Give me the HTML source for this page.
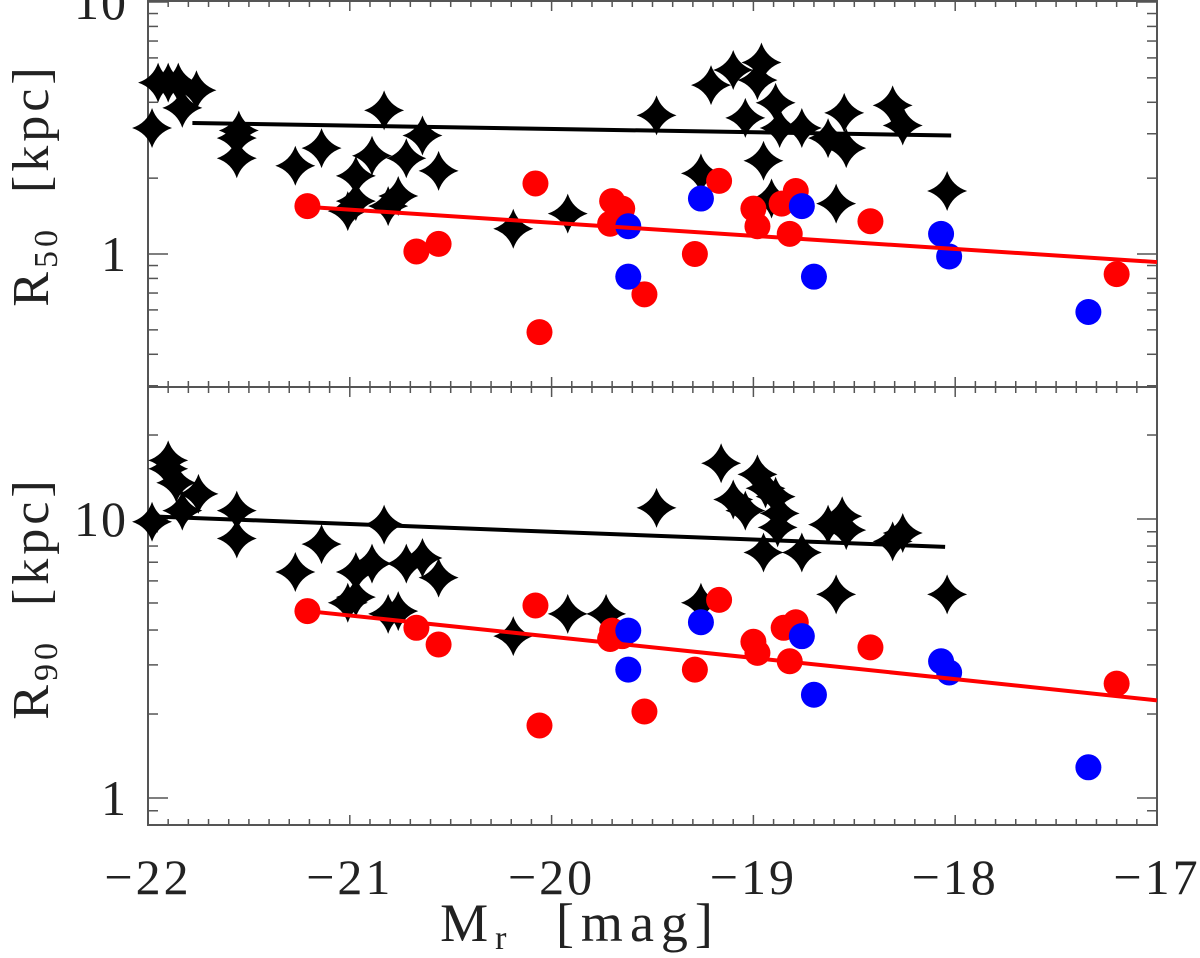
<!DOCTYPE html>
<html><head><meta charset="utf-8"><style>
html,body{margin:0;padding:0;background:#fff;}
svg{display:block;font-family:"Liberation Serif",serif;}
</style></head><body>
<svg id="chart" width="1200" height="958" viewBox="0 0 1200 958" xmlns="http://www.w3.org/2000/svg"></svg>
<script>
// ---- data (M_r, log10 R) ----
const starM50=[-21.98,-21.95,-21.90,-21.85,-21.76,-21.83,-21.55,-21.56,-21.56,-21.27,-21.14,-20.83,-20.64,-20.89,-20.72,-20.56,-20.97,-20.97,-21.01,-20.76,-20.81,-20.19,-19.92,-19.48,-19.26,-19.21,-19.10,-18.96,-18.98,-19.04,-18.89,-18.87,-18.76,-18.63,-18.55,-18.54,-18.95,-18.91,-18.59,-18.31,-18.26,-18.04];
const starLogR50=[0.50,0.68,0.68,0.68,0.65,0.58,0.49,0.46,0.38,0.35,0.42,0.57,0.47,0.39,0.38,0.33,0.31,0.21,0.17,0.23,0.19,0.10,0.16,0.55,0.32,0.67,0.73,0.76,0.69,0.54,0.60,0.50,0.50,0.46,0.56,0.42,0.37,0.22,0.20,0.59,0.51,0.25];
const redM50=[-21.21,-20.67,-20.56,-20.08,-20.06,-19.70,-19.65,-19.71,-19.29,-19.54,-19.17,-19.00,-18.98,-18.79,-18.86,-18.82,-18.42,-17.20];
const redLogR50=[0.19,0.01,0.04,0.28,-0.31,0.21,0.18,0.12,0.00,-0.16,0.29,0.18,0.11,0.25,0.20,0.08,0.13,-0.08];
const blueM50=[-19.62,-19.26,-19.62,-18.76,-18.70,-18.07,-18.03,-17.34];
const blueLogR50=[0.11,0.22,-0.09,0.19,-0.09,0.08,-0.01,-0.23];
const starM90=[-21.90,-21.90,-21.86,-21.75,-21.83,-21.98,-21.56,-21.56,-21.27,-21.14,-20.83,-20.97,-20.89,-20.72,-20.64,-20.56,-21.01,-20.97,-20.81,-20.76,-20.19,-19.92,-19.73,-19.48,-19.26,-19.16,-18.98,-18.94,-18.89,-19.10,-19.04,-18.87,-18.88,-18.63,-18.56,-18.54,-18.31,-18.26,-18.95,-18.76,-18.59,-18.04];
const starLogR90=[1.21,1.18,1.13,1.09,1.03,0.99,1.03,0.93,0.81,0.91,0.98,0.81,0.84,0.84,0.86,0.79,0.70,0.72,0.66,0.67,0.58,0.66,0.66,1.04,0.70,1.20,1.16,1.11,1.08,1.07,1.03,1.02,0.97,0.98,1.01,0.96,0.92,0.95,0.88,0.88,0.73,0.73];
const redM90=[-21.21,-20.67,-20.56,-20.08,-20.06,-19.70,-19.65,-19.71,-19.29,-19.54,-19.17,-19.00,-18.98,-18.79,-18.85,-18.82,-18.42,-17.20];
const redLogR90=[0.67,0.61,0.55,0.69,0.26,0.60,0.58,0.57,0.46,0.31,0.71,0.56,0.52,0.63,0.61,0.49,0.54,0.41];
const blueM90=[-19.62,-19.26,-19.62,-18.76,-18.70,-18.07,-18.03,-17.34];
const blueLogR90=[0.60,0.63,0.46,0.58,0.37,0.49,0.45,0.11];
// fit lines: [M_start, M_end], [logR_start, logR_end]
const blackFitM50=[-21.78,-18.02], blackFitR50=[0.52,0.47];
const redFitM50=[-21.21,-17.0], redFitR50=[0.187,-0.032];
const blackFitM90=[-22.0,-18.05], blackFitR90=[1.01,0.90];
const redFitM90=[-21.21,-17.0], redFitR90=[0.67,0.35];
const xTicks=[-22,-21,-20,-19,-18,-17];
const xTickLabels=["\u221222","\u221221","\u221220","\u221219","\u221218","\u221217"];

// ---- geometry ----
const NS="http://www.w3.org/2000/svg";
const svg=document.getElementById('chart');
const L=148,R=1157;
const X=m=>L+(m+22)*(R-L)/5;
const P1={top:1,bot:387,y1:254,dec:252,lo:0.3,hi:10};
const P2={top:387,bot:825,y1:798,dec:279,lo:0.8,hi:30};
const Y=(p,lg)=>p.y1-lg*p.dec;
function el(tag,attrs,parent){const e=document.createElementNS(NS,tag);for(const k in attrs)e.setAttribute(k,attrs[k]);(parent||svg).appendChild(e);return e;}

function drawPanel(p,name,labels){
  const g=el('g',{});
  
  
  el('rect',{x:L,y:p.top,width:R-L,height:p.bot-p.top,fill:'none',stroke:'#555','stroke-width':2},g);
  for(let i=0;i<=50;i++){const m=-22+i*0.1,x=X(m);const len=(i%10===0)?10:6;
    el('line',{x1:x,x2:x,y1:p.bot,y2:p.bot-len,stroke:'#555','stroke-width':1.5},g);
    el('line',{x1:x,x2:x,y1:p.top,y2:p.top+len,stroke:'#555','stroke-width':1.5},g);}
  for(let d=-1;d<=1;d++)for(let k=1;k<=9;k++){const v=k*Math.pow(10,d);if(v<p.lo-1e-9||v>p.hi+1e-9)continue;
    const y=Y(p,Math.log10(v));const len=(k===1)?20:10;
    el('line',{x1:L,x2:L+len,y1:y,y2:y,stroke:'#555','stroke-width':1.5},g);
    el('line',{x1:R,x2:R-len,y1:y,y2:y,stroke:'#555','stroke-width':1.5},g);}
  labels.forEach(([v,t])=>{const tx=el('text',{x:128,y:Y(p,Math.log10(v))+17,'text-anchor':'end','font-size':50,'letter-spacing':2,fill:'#222'},g);tx.textContent=t;
    
    });
  return g;
}
function star(x,y,g){const r=20,c=5;
  const d=`M${x},${y-r} Q${x+c},${y-c} ${x+r},${y} Q${x+c},${y+c} ${x},${y+r} Q${x-c},${y+c} ${x-r},${y} Q${x-c},${y-c} ${x},${y-r}Z`;
  const s=el('path',{d:d,fill:'#000'},g);
  
  }
function dot(x,y,col,g,nm){const c=el('circle',{cx:x,cy:y,r:13,fill:col},g);
  
  }
function fit(p,ms,rs,col,g,nm){const l=el('line',{x1:X(ms[0]),x2:X(ms[1]),y1:Y(p,rs[0]),y2:Y(p,rs[1]),stroke:col,'stroke-width':4},g);
  
  }

const g1=drawPanel(P1,'r50',[[10,'10'],[1,'1']]);
const g2=drawPanel(P2,'r90',[[10,'10'],[1,'1']]);
starM50.forEach((m,i)=>star(X(m),Y(P1,starLogR50[i]),g1));
fit(P1,blackFitM50,blackFitR50,'#000',g1,'black-fit-line-r50');
redM50.forEach((m,i)=>dot(X(m),Y(P1,redLogR50[i]),'#ff0000',g1,'red-point'));
blueM50.forEach((m,i)=>dot(X(m),Y(P1,blueLogR50[i]),'#0000ff',g1,'blue-point'));
fit(P1,redFitM50,redFitR50,'#ff0000',g1,'red-fit-line-r50');
starM90.forEach((m,i)=>star(X(m),Y(P2,starLogR90[i]),g2));
fit(P2,blackFitM90,blackFitR90,'#000',g2,'black-fit-line-r90');
redM90.forEach((m,i)=>dot(X(m),Y(P2,redLogR90[i]),'#ff0000',g2,'red-point'));
blueM90.forEach((m,i)=>dot(X(m),Y(P2,blueLogR90[i]),'#0000ff',g2,'blue-point'));
fit(P2,redFitM90,redFitR90,'#ff0000',g2,'red-fit-line-r90');
xTicks.forEach((m,i)=>{const t=el('text',{x:X(m),y:894,'text-anchor':'middle','font-size':50,'letter-spacing':3,fill:'#222'});t.textContent=xTickLabels[i];
  
  });
</script>
<svg style="position:absolute;left:0;top:0" width="1200" height="958">
<text x="580" y="941" text-anchor="middle" font-family="Liberation Serif,serif" font-size="54" letter-spacing="7" word-spacing="22" fill="#222">M<tspan font-size="34" dy="8">r</tspan><tspan dy="-8"> [mag]</tspan></text>
<text transform="translate(48,185) rotate(-90)" text-anchor="middle" font-family="Liberation Serif,serif" font-size="52" letter-spacing="4" word-spacing="16" fill="#222">R<tspan font-size="34" dy="9">50</tspan><tspan dy="-9"> [kpc]</tspan></text>
<text transform="translate(48,598) rotate(-90)" text-anchor="middle" font-family="Liberation Serif,serif" font-size="52" letter-spacing="4" word-spacing="16" fill="#222">R<tspan font-size="34" dy="9">90</tspan><tspan dy="-9"> [kpc]</tspan></text>
</svg>
</body></html>
